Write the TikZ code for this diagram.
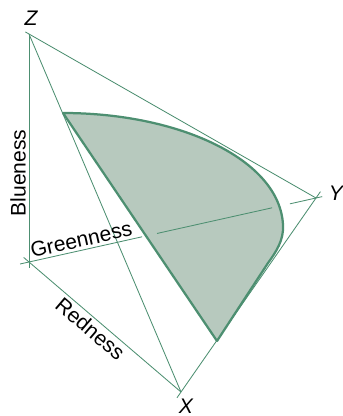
\documentclass[tikz,border=0pt]{standalone}
\usepackage{fontspec}
\setmainfont{Liberation Sans}
\usepackage{xcolor}
\usetikzlibrary{calc}
\definecolor{linegreen}{RGB}{77,143,113}
\definecolor{fillgreen}{RGB}{183,201,190}
\tikzset{
  axisline/.style={draw=linegreen,line width=0.6pt},
  gamut/.style={draw=linegreen,fill=fillgreen,line width=1.6pt,line join=round},
  axislabel/.style={font=\fontsize{15}{17}\selectfont,inner sep=2pt},
  cornerlabel/.style={font=\fontsize{15}{17}\selectfont\itshape,inner sep=0pt}
}
\begin{document}
\begin{tikzpicture}[x=0.025cm,y=-0.025cm]
  \useasboundingbox (0,0) rectangle (343,416);
  % axis origin and the three primaries
  \coordinate (O) at (29,262);
  \coordinate (Z) at (29,34);
  \coordinate (X) at (181,392);
  \coordinate (Y) at (316,198);
  % triangle of the primaries
  \draw[axisline,shorten <=-3pt] (Z) -- (Y);
  \draw[axisline] (Z) -- (X);
  \draw[axisline,shorten <=-5pt,shorten >=-5.5pt] (X) -- (Y);
  % colour axes
  \draw[axisline,shorten >=-4pt] (Z) -- (O);
  \draw[axisline,shorten <=-5pt] (O) -- (X);
  \path (O) -- (Z) node[axislabel,pos=0.39,sloped,above] (blue) {Blueness};
  \path (O) -- (X) node[axislabel,pos=0.45,sloped,below] (red) {Redness};
  % chromaticity region
  \coordinate (A) at (63,113);
  \coordinate (B) at (217,341);
  \path[gamut] (A) .. controls (180,113) and (280,160) .. (283,225)
    .. controls (284,240) and (276,252) .. (268,263) -- (B) -- cycle;
  % green axis, broken where it meets the boundary
  \coordinate (g1) at ($(O)!0.394!(Y)$);
  \coordinate (g2) at ($(O)!0.446!(Y)$);
  \coordinate (g3) at ($(O)!0.847!(Y)$);
  \coordinate (g4) at ($(O)!0.909!(Y)$);
  \draw[axisline,shorten <=-6.5pt] (O) -- (g1);
  \draw[axisline] (g2) -- (g3);
  \draw[axisline,shorten >=-4.5pt] (g4) -- (Y);
  \path (O) -- (Y) node[axislabel,pos=0.19,sloped,above] (green) {Greenness};
  % primary names
  \node[cornerlabel] (zlab) at (31,18) {Z};
  \node[cornerlabel] (ylab) at (336,193) {Y};
  \node[cornerlabel] (xlab) at (186,406) {X};
\end{tikzpicture}
\end{document}
